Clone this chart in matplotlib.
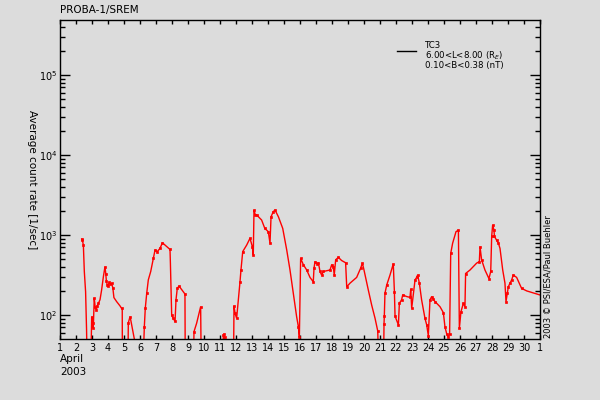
import numpy as np
import matplotlib
matplotlib.use("Agg")
import matplotlib.pyplot as plt
from matplotlib.ticker import FixedLocator, FuncFormatter, LogLocator, NullFormatter

plt.rcParams['font.family'] = ['DejaVu Sans']
plt.rcParams['mathtext.fontset'] = 'dejavusans'

# ---- data: day of April 2003 (fractional) and average count rate [1/sec]
days = [2.36, 2.40, 2.46, 2.52, 2.60, 2.66, 2.70, 2.92, 2.98, 3.05, 3.08, 3.14, 3.20, 3.27, 3.33, 3.40,
        3.50, 3.60, 3.71, 3.81, 3.86, 3.90, 3.95, 4.00, 4.08, 4.15, 4.22, 4.30, 4.37, 4.54, 4.75, 4.85,
        4.89, 4.90, 5.24, 5.27, 5.375, 5.42, 5.54, 5.69, 5.72, 6.18, 6.27, 6.33, 6.42, 6.52, 6.67, 6.83,
        6.94, 7.08, 7.25, 7.40, 7.875, 7.90, 7.94, 7.98, 8.08, 8.19, 8.25, 8.33, 8.44, 8.81, 8.83, 9.33,
        9.375, 9.54, 9.79, 9.83, 11.15, 11.21, 11.25, 11.30, 11.33, 11.84, 11.875, 11.94, 12.04, 12.15,
        12.25, 12.31, 12.42, 12.67, 12.875, 13.02, 13.08, 13.125, 13.20, 13.29, 13.60, 13.80, 14.02,
        14.125, 14.19, 14.33, 14.44, 14.65, 14.92, 15.17, 15.375, 15.58, 15.79, 15.90, 15.96, 16.04,
        16.21, 16.42, 16.625, 16.83, 16.875, 16.94, 17.05, 17.15, 17.25, 17.35, 17.46, 17.875, 17.98,
        18.08, 18.14, 18.23, 18.40, 18.60, 18.85, 18.92, 19.125, 19.54, 19.79, 19.90, 20.00, 20.27,
        20.48, 20.69, 20.86, 20.92, 21.22, 21.25, 21.27, 21.31, 21.42, 21.625, 21.83, 21.90, 21.94,
        22.15, 22.21, 22.35, 22.42, 22.67, 22.875, 22.92, 22.98, 23.19, 23.29, 23.35, 23.46, 23.60,
        23.81, 23.92, 24.02, 24.125, 24.23, 24.33, 24.44, 24.75, 24.96, 25.06, 25.17, 25.27, 25.35,
        25.42, 25.54, 25.75, 25.90, 25.96, 26.06, 26.21, 26.31, 26.35, 26.625, 27.04, 27.21, 27.25,
        27.35, 27.56, 27.81, 27.92, 27.98, 28.04, 28.125, 28.15, 28.29, 28.40, 28.50, 28.67, 28.81,
        28.875, 28.96, 29.02, 29.125, 29.23, 29.33, 29.54, 29.85, 30.17, 31.0]
rates = [890, 860, 750, 350, 195, 65, 20, 20, 95, 80, 68, 162, 125, 115, 130, 140,
         155, 205, 300, 400, 330, 265, 240, 230, 255, 245, 250, 220, 165, 147, 130, 121,
         121, 20, 20, 80, 95, 87, 65, 45, 20, 20, 71, 121, 187, 275, 350, 510,
         650, 620, 680, 800, 660, 445, 205, 100, 91, 83, 155, 215, 230, 183, 20, 20,
         62, 79, 127, 20, 20, 56, 58, 53, 20, 20, 130, 105, 91, 155,
         260, 365, 620, 750, 910, 715, 560, 2050, 1800, 1780, 1540, 1210, 1100,
         790, 1690, 1960, 2050, 1690, 1210, 650, 365, 187, 95, 71, 53, 510,
         425, 365, 295, 260, 385, 465, 440, 450, 350, 316, 350, 365, 425,
         400, 316, 490, 525, 480, 450, 225, 250, 295, 385, 445, 365, 205,
         133, 91, 63, 20, 20, 77, 97, 187, 237, 316, 435, 195, 97,
         75, 140, 155, 178, 170, 166, 210, 121, 275, 295, 316, 250, 155,
         91, 75, 55, 155, 170, 158, 147, 127, 107, 71, 58, 53, 58,
         590, 790, 1100, 1150, 68, 110, 140, 127, 330, 365, 445, 465, 715,
         490, 365, 285, 350, 960, 1330, 1150, 960, 860, 790, 680, 365, 250,
         147, 187, 225, 250, 275, 316, 295, 215, 200, 178]
# 1 = point drawn with a symbol
symbol = [1, 1, 1, 0, 0, 0, 0, 0, 1, 1, 1, 1, 1, 1, 1, 1,
          0, 0, 0, 1, 1, 1, 1, 1, 1, 1, 1, 1, 0, 0, 0, 1,
          0, 0, 0, 1, 1, 0, 0, 0, 0, 0, 1, 1, 1, 0, 0, 1,
          1, 1, 1, 1, 1, 0, 0, 1, 1, 1, 1, 1, 1, 1, 0, 0,
          1, 0, 1, 0, 0, 1, 1, 1, 0, 0, 1, 1, 1, 0,
          1, 1, 1, 0, 1, 1, 1, 1, 1, 1, 0, 1, 1,
          1, 1, 1, 1, 0, 0, 0, 0, 0, 0, 1, 1, 1,
          1, 1, 0, 1, 1, 1, 1, 1, 1, 1, 1, 1, 1,
          1, 1, 1, 1, 0, 1, 1, 0, 0, 1, 1, 0, 0,
          0, 0, 1, 0, 0, 1, 1, 1, 1, 0, 1, 1, 1,
          1, 1, 1, 1, 0, 1, 1, 1, 1, 1, 1, 1, 0,
          1, 1, 1, 1, 1, 1, 1, 0, 1, 1, 1, 1, 1,
          1, 0, 0, 1, 1, 1, 1, 1, 1, 0, 0, 1, 1,
          1, 0, 1, 1, 1, 1, 1, 1, 1, 1, 0, 0, 0,
          1, 1, 1, 1, 1, 1, 0, 1, 0, 0]

xtick_days = list(range(1, 32))
xtick_labels = [str(d) for d in range(1, 31)] + ["1"]
ytick_exps = [2, 3, 4, 5]

title = "PROBA-1/SREM"
ylabel = "Average count rate [1/sec]"
credit = "2003 \u00a9 PSI/ESA/Paul Buehler"
legend_lines = ["TC3", "6.00<L<8.00 (R$_E$)", "0.10<B<0.38 (nT)"]

bg = '#dcdcdc'
fig = plt.figure(figsize=(6, 4), dpi=100, facecolor=bg)
ax = fig.add_axes([0.1, 1 - 339 / 400, 0.8, (339 - 20) / 400])
ax.set_facecolor(bg)

d = np.array(days)
r = np.array(rates, dtype=float)
s = np.array(symbol, dtype=bool)
ax.plot(d, r, color='red', lw=1.0, solid_joinstyle='miter')
ax.plot(d[s], r[s], ls='none', marker='s', ms=2.0, color='red', mec='red', mew=0.5)

ax.set_yscale('log')
ax.set_xlim(1, 31)
ax.set_ylim(10 ** 1.7, 10 ** 5.6875)

ax.xaxis.set_major_locator(FixedLocator(xtick_days))
ax.set_xticklabels(xtick_labels)
ax.yaxis.set_major_locator(FixedLocator([10.0 ** e for e in ytick_exps]))
ax.yaxis.set_major_formatter(FuncFormatter(lambda v, p: r'$10^{%d}$' % round(np.log10(v))))
ax.yaxis.set_minor_locator(LogLocator(base=10, subs=np.arange(2, 10)))
ax.yaxis.set_minor_formatter(NullFormatter())

ax.tick_params(axis='x', which='major', direction='in', length=3, width=1, top=True,
               labelsize=7, pad=3, colors='black')
ax.tick_params(axis='y', which='major', direction='in', length=7, width=1, right=True,
               labelsize=7, pad=2)
ax.tick_params(axis='y', which='minor', direction='in', length=3.6, width=1, right=True)
for sp in ax.spines.values():
    sp.set_linewidth(1)
    sp.set_color('black')

fig.text(60 / 600, 1 - 10 / 400, title, fontsize=7.5, ha='left', va='center')
fig.text(32 / 600, 1 - 180 / 400, ylabel, fontsize=7.5, rotation=270, ha='center', va='center')
fig.text(548 / 600, 1 - 338 / 400, credit, fontsize=6, rotation=90, ha='center', va='bottom')
fig.text(60 / 600, 1 - 359 / 400, "April", fontsize=7.5, ha='left', va='center')
fig.text(60 / 600, 1 - 372 / 400, "2003", fontsize=7.5, ha='left', va='center')

# legend
ax.plot([397 / 600, 416 / 600], [1 - 51 / 400, 1 - 51 / 400], color='black', lw=1,
        transform=fig.transFigure, clip_on=False)
for i, t in enumerate(legend_lines):
    fig.text(425 / 600, 1 - (46 + 9.8 * i) / 400, t, fontsize=6.2, ha='left', va='center')

fig.savefig('out.png', dpi=100, facecolor=bg)
